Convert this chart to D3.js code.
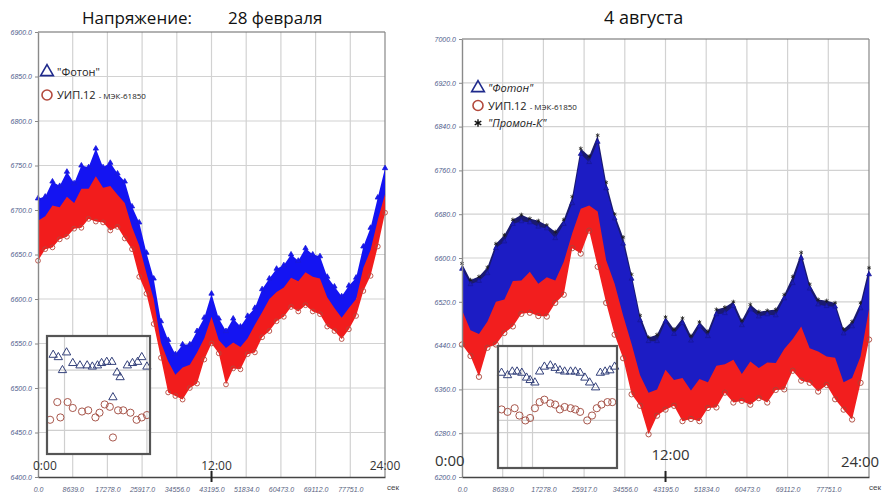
<!DOCTYPE html>
<html>
<head>
<meta charset="utf-8">
<script src="https://cdn.jsdelivr.net/npm/d3@7"></script>
<style>
  body { margin: 0; background: #fff; }
  svg { display: block; }
</style>
</head>
<body>
<svg id="chart" width="882" height="492"></svg>
<script>
// ---- sample times: every half hour over the day, in seconds ----
const sampleSecs = d3.range(49).map(i => i * 1800);

// ---- x axis (seconds) ----
const xTickValues = [0, 8639, 17278, 25917, 34556, 43195, 51834, 60473, 69112, 77751];
const clockLabels = ["0:00", "12:00", "24:00"];
const clockSecs = [0, 43200, 86390];

// ---- 28 February: voltage envelopes (upper / lower) per meter ----
const febTicks = [6400, 6450, 6500, 6550, 6600, 6650, 6700, 6750, 6800, 6850, 6900];
const febFotonHi = [6713,6715,6732,6727,6743,6730,6750,6748,6769,6748,6753,6741,6732,6704,6686,6652,6623,6575,6554,6538,6549,6549,6564,6579,6606,6578,6564,6578,6569,6581,6590,6611,6623,6634,6638,6650,6643,6657,6650,6648,6625,6614,6603,6615,6624,6659,6680,6714,6747];
const febFotonLo = [6662,6669,6678,6680,6689,6691,6700,6703,6705,6698,6696,6694,6686,6669,6644,6618,6590,6547,6514,6504,6506,6512,6523,6545,6568,6551,6523,6534,6540,6551,6559,6570,6582,6588,6599,6604,6605,6606,6604,6596,6588,6577,6573,6579,6599,6622,6644,6671,6714];
const febUipHi = [6688,6693,6705,6703,6715,6708,6724,6724,6738,6725,6727,6717,6708,6681,6660,6629,6600,6551,6530,6515,6523,6526,6540,6556,6580,6554,6545,6551,6546,6556,6571,6585,6600,6608,6613,6624,6620,6630,6625,6623,6602,6590,6579,6590,6600,6635,6655,6689,6718];
const febUipLo = [6643,6656,6658,6667,6670,6679,6680,6690,6687,6686,6677,6681,6668,6656,6625,6606,6572,6534,6495,6491,6487,6500,6505,6532,6550,6539,6504,6522,6521,6538,6540,6557,6564,6575,6580,6591,6586,6593,6586,6583,6569,6564,6555,6566,6581,6609,6626,6659,6697];

// ---- 4 August ----
const augTicks = [6200, 6280, 6360, 6440, 6520, 6600, 6680, 6760, 6840, 6920, 7000];
const augPromonHi = [6590,6560,6566,6583,6626,6642,6670,6679,6672,6668,6660,6648,6670,6712,6800,6786,6824,6738,6680,6638,6570,6495,6455,6460,6492,6470,6490,6458,6483,6466,6506,6510,6520,6486,6515,6502,6504,6506,6533,6566,6610,6552,6524,6522,6518,6470,6484,6518,6582];
const augPromonLo = [6534,6518,6512,6538,6571,6596,6615,6633,6618,6624,6607,6602,6615,6666,6742,6742,6766,6693,6625,6593,6516,6452,6401,6414,6437,6428,6434,6415,6428,6423,6450,6465,6465,6443,6459,6459,6450,6461,6479,6520,6552,6510,6468,6478,6465,6428,6428,6474,6523];
const augFotonHi = [6580,6552,6558,6572,6618,6630,6662,6667,6665,6657,6654,6636,6662,6700,6790,6775,6812,6727,6672,6626,6562,6486,6448,6448,6484,6461,6481,6449,6475,6457,6497,6499,6512,6477,6506,6493,6497,6495,6526,6554,6600,6544,6515,6512,6511,6462,6475,6508,6570];
const augFotonLo = [6475,6442,6416,6457,6475,6484,6508,6519,6533,6515,6526,6539,6566,6639,6641,6671,6617,6539,6493,6438,6384,6351,6311,6333,6356,6351,6335,6327,6335,6347,6360,6375,6369,6360,6365,6365,6369,6380,6393,6415,6409,6393,6389,6389,6375,6344,6338,6393,6484];
const augUipHi = [6505,6468,6461,6484,6520,6524,6558,6559,6575,6553,6565,6559,6593,6645,6690,6696,6685,6596,6553,6495,6443,6386,6354,6360,6396,6377,6381,6358,6379,6373,6403,6406,6414,6388,6411,6399,6409,6408,6434,6452,6475,6435,6429,6420,6418,6373,6381,6420,6507];
const augUipLo = [6442,6421,6383,6436,6442,6463,6475,6498,6500,6494,6493,6518,6533,6618,6608,6650,6584,6518,6460,6417,6351,6330,6278,6312,6323,6330,6302,6306,6302,6326,6327,6354,6336,6339,6332,6344,6336,6359,6360,6394,6376,6372,6356,6368,6342,6323,6305,6372,6451];

// ---- close-up samples shown in the small boxes (relative units 0..100) ----
const febZoomFoton = [[6,84],[11,82],[19,86],[15,71],[25,77],[32,75],[39,75],[44,74],[49,75],[53,77],[58,78],[63,78],[68,69],[71,65],[78,75],[83,77],[88,78],[92,82],[97,74],[64,48]];
const febZoomUip = [[3,29],[13,31],[10,44],[20,44],[25,39],[34,36],[40,37],[47,31],[51,35],[56,42],[61,40],[69,37],[74,37],[81,35],[87,29],[92,31],[97,33],[64,14]];
const augZoomFoton = [[3,78],[8,76],[12,79],[16,79],[20,78],[24,74],[27,72],[31,70],[35,79],[39,83],[44,84],[48,82],[52,80],[56,79],[61,79],[65,79],[69,78],[73,74],[77,70],[82,66],[86,78],[90,79],[94,80],[98,83]];
const augZoomUip = [[3,48],[8,46],[14,49],[18,43],[23,39],[27,41],[31,49],[35,54],[39,56],[44,53],[48,52],[52,48],[56,50],[61,49],[65,48],[69,46],[75,39],[79,43],[83,49],[87,52],[92,54],[96,54]];

const svg = d3.select("#chart");
const tickFont = "'Liberation Sans', Arial, sans-serif";
const textFont = "'Open Sans', 'Liberation Sans', sans-serif";

// titles
svg.append("text").attr("x", 82).attr("y", 24).text("Напряжение:")
  .attr("font-family", textFont).attr("font-size", 17).attr("fill", "#111");
svg.append("text").attr("x", 228).attr("y", 24).text("28 февраля")
  .attr("font-family", textFont).attr("font-size", 17).attr("fill", "#111");
svg.append("text").attr("x", 604).attr("y", 24).text("4 августа")
  .attr("font-family", textFont).attr("font-size", 18).attr("fill", "#111");

function drawPanel(cfg) {
  const g = svg.append("g");
  const x = d3.scaleLinear().domain([0, 86390]).range([cfg.x0, cfg.x1]);
  const y = d3.scaleLinear().domain([cfg.ticks[0], cfg.ticks[cfg.ticks.length - 1]]).range([cfg.y1, cfg.y0]);

  // grid
  g.selectAll("line.vg").data(xTickValues.slice(1)).join("line")
    .attr("x1", d => x(d)).attr("x2", d => x(d)).attr("y1", cfg.y0).attr("y2", cfg.y1)
    .attr("stroke", "#d2d2d2").attr("stroke-width", 1.2);
  g.selectAll("line.hg").data(cfg.ticks.slice(1, -1)).join("line")
    .attr("x1", cfg.x0).attr("x2", cfg.x1).attr("y1", d => y(d)).attr("y2", d => y(d))
    .attr("stroke", "#d2d2d2").attr("stroke-width", 1.2);

  // frame: top edge and right edge
  g.append("line").attr("x1", cfg.x0).attr("x2", cfg.x1).attr("y1", cfg.y0).attr("y2", cfg.y0)
    .attr("stroke", "#666").attr("stroke-width", 1.2);
  g.append("line").attr("x1", cfg.x1).attr("x2", cfg.x1).attr("y1", cfg.y0).attr("y2", cfg.y1)
    .attr("stroke", "#888").attr("stroke-width", 1.2);

  // series bands
  cfg.series.forEach(s => {
    const rows = sampleSecs.map((t, i) => ({ t, lo: s.lo[i], hi: s.hi[i] }));
    g.append("path").datum(rows)
      .attr("d", d3.area().x(d => x(d.t)).y0(d => y(d.lo)).y1(d => y(d.hi)))
      .attr("fill", s.color);
    // markers along the outer edges of each band
    if (s.topMark) {
      g.selectAll(null).data(rows).join("path")
        .attr("transform", d => `translate(${x(d.t)},${y(d.hi)})`)
        .attr("d", d3.symbol(s.topMark, s.topSize)())
        .attr("fill", s.topFill).attr("stroke", s.topStroke).attr("stroke-width", 0.8);
    }
    if (s.botMark) {
      g.selectAll(null).data(rows).join("path")
        .attr("transform", d => `translate(${x(d.t)},${y(d.lo)})`)
        .attr("d", d3.symbol(s.botMark, s.botSize)())
        .attr("fill", "none").attr("stroke", s.botStroke).attr("stroke-width", 0.9);
    }
  });

  // y axis
  const ya = g.append("g").attr("transform", `translate(${cfg.x0},0)`)
    .call(d3.axisLeft(y).tickValues(cfg.ticks).tickFormat(d3.format(".1f")).tickSize(3).tickSizeOuter(0));
  ya.select(".domain").attr("stroke", "#8a8a8a").attr("stroke-width", 1.4);
  ya.selectAll(".tick line").attr("stroke", "#888");
  ya.selectAll("text").attr("font-family", tickFont).attr("font-size", 7).attr("font-style", "italic")
    .attr("fill", "#4d5b8c");

  // x axis
  const xa = g.append("g").attr("transform", `translate(0,${cfg.y1})`)
    .call(d3.axisBottom(x).tickValues(xTickValues).tickFormat(d3.format(".1f")).tickSize(0).tickPadding(10).tickSizeOuter(0));
  xa.select(".domain").attr("stroke", "#444").attr("stroke-width", 1.4);
  xa.selectAll("text").attr("font-family", tickFont).attr("font-size", 7).attr("font-style", "italic")
    .attr("fill", "#59637f");
  g.append("text").attr("x", cfg.unitX).attr("y", cfg.y1 + 13).text("сек")
    .attr("text-anchor", "end")
    .attr("font-family", tickFont).attr("font-size", 8).attr("fill", "#444");

  // midday marker
  g.append("line").attr("x1", x(43200)).attr("x2", x(43200)).attr("y1", cfg.y1 - 6).attr("y2", cfg.y1 + 5)
    .attr("stroke", "#222").attr("stroke-width", 2);

  // clock labels
  g.selectAll("text.clock").data(clockLabels).join("text")
    .attr("x", (d, i) => x(clockSecs[i]) + cfg.clockDx[i])
    .attr("y", (d, i) => cfg.clockY[i])
    .attr("text-anchor", (d, i) => i === 0 ? "start" : "middle")
    .attr("font-family", textFont).attr("font-size", cfg.clockSize).attr("fill", "#333")
    .text(d => d);

  // close-up box
  const b = cfg.box;
  const bx = d3.scaleLinear().domain([0, 100]).range([b.x0, b.x1]);
  const by = d3.scaleLinear().domain([0, 100]).range([b.y1, b.y0]);
  g.append("rect").attr("x", b.x0).attr("y", b.y0).attr("width", b.x1 - b.x0).attr("height", b.y1 - b.y0)
    .attr("fill", "#fff");
  g.selectAll(null).data(b.vgrid).join("line")
    .attr("x1", d => bx(d)).attr("x2", d => bx(d)).attr("y1", b.y0).attr("y2", b.y1)
    .attr("stroke", "#cfcfcf").attr("stroke-width", 1.2);
  g.selectAll(null).data(b.hgrid).join("line")
    .attr("x1", b.x0).attr("x2", b.x1).attr("y1", d => by(d)).attr("y2", d => by(d))
    .attr("stroke", "#cfcfcf").attr("stroke-width", 1.2);
  g.selectAll(null).data(b.foton).join("path")
    .attr("transform", d => `translate(${bx(d[0])},${by(d[1])})`)
    .attr("d", d3.symbol(d3.symbolTriangle, 30)())
    .attr("fill", "none").attr("stroke", "#33407a").attr("stroke-width", 1);
  g.selectAll(null).data(b.uip).join("circle")
    .attr("cx", d => bx(d[0])).attr("cy", d => by(d[1])).attr("r", 3.6)
    .attr("fill", "none").attr("stroke", "#a8574c").attr("stroke-width", 1);
  g.append("rect").attr("x", b.x0).attr("y", b.y0).attr("width", b.x1 - b.x0).attr("height", b.y1 - b.y0)
    .attr("fill", "none").attr("stroke", "#555").attr("stroke-width", 2.2);

  // legend
  cfg.legend.forEach((it, i) => {
    const ly = cfg.legendY + i * cfg.legendStep;
    const lx = cfg.legendX;
    if (it.mark === "tri") {
      g.append("path").attr("transform", `translate(${lx},${ly})`)
        .attr("d", d3.symbol(d3.symbolTriangle, 70)())
        .attr("fill", "none").attr("stroke", "#1f2a8c").attr("stroke-width", 1.6);
    } else if (it.mark === "circ") {
      g.append("circle").attr("cx", lx).attr("cy", ly).attr("r", 5)
        .attr("fill", "none").attr("stroke", "#b2493c").attr("stroke-width", 1.6);
    } else {
      g.append("path").attr("transform", `translate(${lx},${ly})`)
        .attr("d", d3.symbol(d3.symbolAsterisk, 40)())
        .attr("fill", "none").attr("stroke", "#111").attr("stroke-width", 1.4);
    }
    const t = g.append("text").attr("x", lx + 10).attr("y", ly + 4)
      .attr("font-family", textFont).attr("fill", "#222");
    t.append("tspan").text(it.label).attr("font-size", 11).attr("font-style", it.italic ? "italic" : "normal");
    if (it.suffix) t.append("tspan").text(it.suffix).attr("font-size", 8).attr("dx", 3);
  });
}

// 28 February
drawPanel({
  x0: 38, x1: 385, y0: 32, y1: 477, unitX: 399,
  ticks: febTicks,
  series: [
    { hi: febFotonHi, lo: febFotonLo, color: "#1414f2",
      topMark: d3.symbolTriangle, topSize: 12, topFill: "#1414f2", topStroke: "#1a1ad8" },
    { hi: febUipHi, lo: febUipLo, color: "#f21c1c",
      botMark: d3.symbolCircle, botSize: 18, botStroke: "#b5473c" }
  ],
  clockDx: [-5, 5, 0], clockY: [470, 470, 470], clockSize: 12,
  box: { x0: 47, x1: 150, y0: 336, y1: 454, vgrid: [17, 97], hgrid: [71, 20],
         foton: febZoomFoton, uip: febZoomUip },
  legendX: 47, legendY: 72, legendStep: 23,
  legend: [
    { mark: "tri", label: "\"Фотон\"" },
    { mark: "circ", label: "УИП.12", suffix: "- МЭК-61850" }
  ]
});

// 4 August
drawPanel({
  x0: 462, x1: 869, y0: 39, y1: 477, unitX: 881,
  ticks: augTicks,
  series: [
    { hi: augPromonHi, lo: augPromonLo, color: "#1a1a70",
      topMark: d3.symbolAsterisk, topSize: 12, topFill: "none", topStroke: "#1a1a1a" },
    { hi: augFotonHi, lo: augFotonLo, color: "#1c1cc4",
      topMark: d3.symbolTriangle, topSize: 10, topFill: "#1c1cb8", topStroke: "#16169a" },
    { hi: augUipHi, lo: augUipLo, color: "#f21e1e",
      botMark: d3.symbolCircle, botSize: 22, botStroke: "#a84438" }
  ],
  clockDx: [-27, 5, -9], clockY: [466, 460, 467], clockSize: 15,
  box: { x0: 498, x1: 617, y0: 346, y1: 468, vgrid: [8, 20, 29], hgrid: [66, 39, 29],
         foton: augZoomFoton, uip: augZoomUip },
  legendX: 478, legendY: 88, legendStep: 17.5,
  legend: [
    { mark: "tri", label: "\"Фотон\"", italic: true },
    { mark: "circ", label: "УИП.12", suffix: "- МЭК-61850" },
    { mark: "star", label: "\"Промон-К\"", italic: true }
  ]
});
</script>
</body>
</html>
